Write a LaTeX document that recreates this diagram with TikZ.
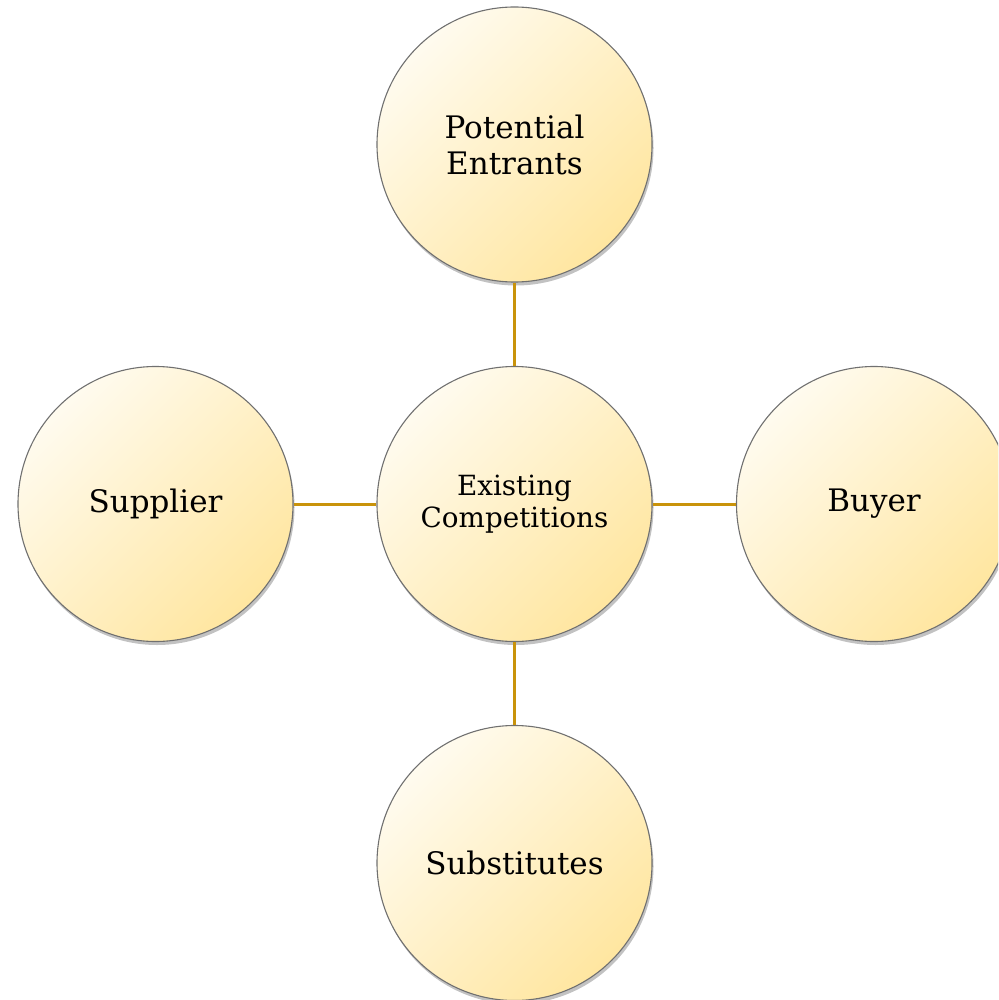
\documentclass[tikz,border=0pt]{standalone}
\usepackage{fontspec}
\setmainfont{DejaVu Serif}
\usetikzlibrary{shadows}
\definecolor{linkgold}{HTML}{C9930B}
\definecolor{ballhi}{HTML}{FFFBEF}
\definecolor{balllo}{HTML}{FFE6A0}
\definecolor{ballrim}{HTML}{707070}
\tikzset{
  ball/.style={circle, minimum size=275pt, inner sep=0pt, draw=ballrim, line width=1.1pt,
    left color=ballhi, right color=balllo, shading angle=45,
    drop shadow={opacity=0.4, shadow xshift=1.5pt, shadow yshift=-3.5pt, fill=black!60},
    align=center, font=\fontsize{31}{36}\selectfont},
  link/.style={draw=linkgold, line width=3pt}
}
\begin{document}
\begin{tikzpicture}[x=1pt,y=-1pt]
\useasboundingbox (0,0) rectangle (998,1000);
\clip (0,0) rectangle (998,1000);
\node[ball] (top) at (514.5,144.5) {Potential\\Entrants};
\node[ball, font=\fontsize{27.8}{32.5}\selectfont] (mid) at (514.5,504) {Existing\\Competitions};
\node[ball] (left) at (155.5,504) {Supplier};
\node[ball] (right) at (874,504) {Buyer};
\node[ball] (bot) at (514.5,863) {Substitutes};
\draw[link] (top) -- (mid);
\draw[link] (mid) -- (bot);
\draw[link] (left) -- (mid);
\draw[link] (mid) -- (right);
\end{tikzpicture}
\end{document}
